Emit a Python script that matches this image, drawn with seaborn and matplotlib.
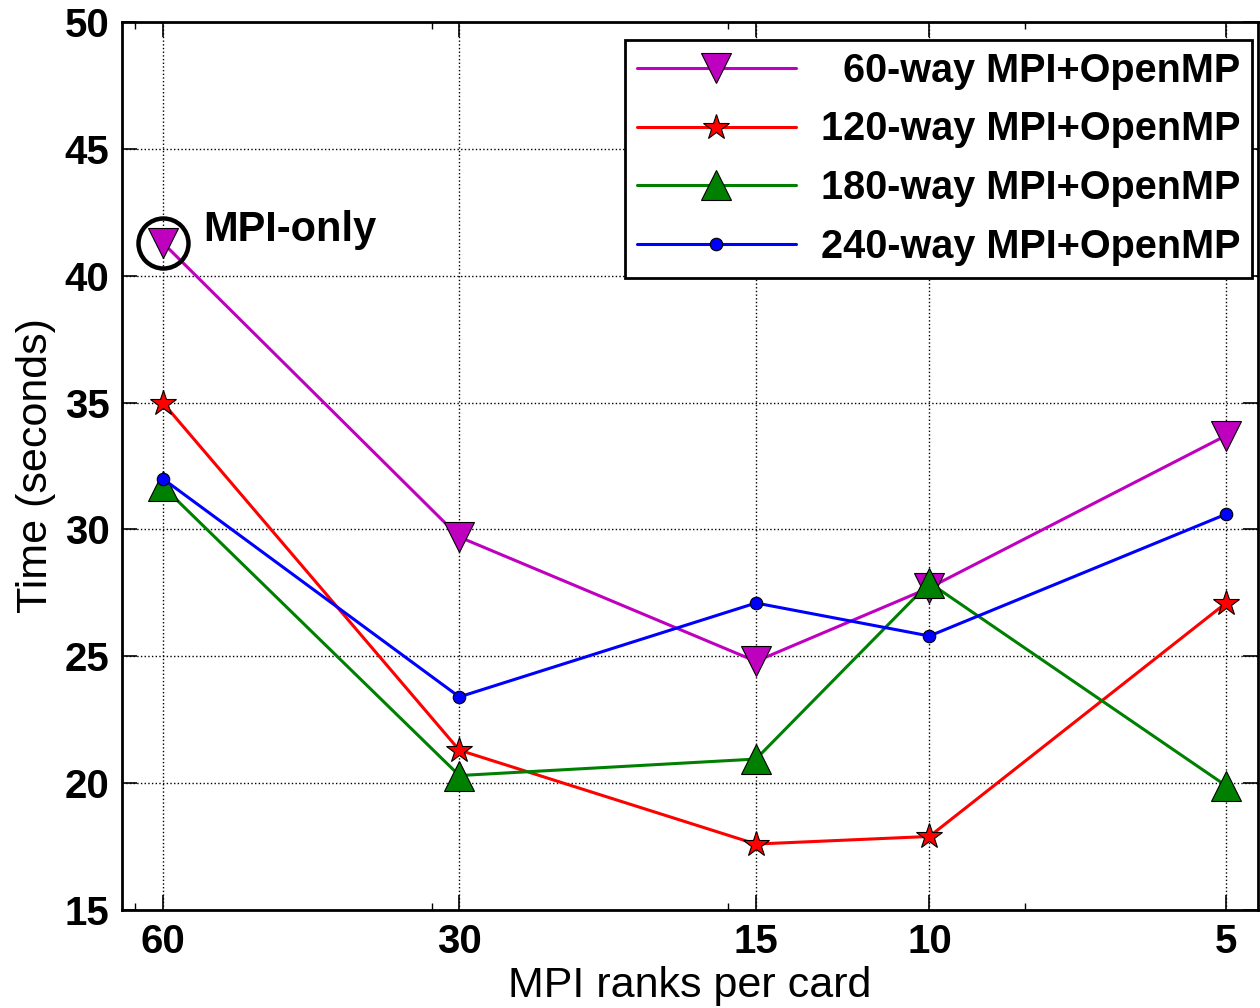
import numpy as np
import pandas as pd
import matplotlib
matplotlib.use("Agg")
import matplotlib.pyplot as plt
import seaborn as sns

# data
ranks = [60, 30, 15, 10, 5]
minor_ranks = [64, 32, 16, 8]
way60 = [41.3, 29.7, 24.8, 27.7, 33.7]
way120 = [35.0, 21.3, 17.6, 17.9, 27.1]
way180 = [31.7, 20.3, 20.95, 27.9, 19.9]
way240 = [32.0, 23.4, 27.1, 25.8, 30.6]
yticks = [15, 20, 25, 30, 35, 40, 45, 50]

labels = ["  60-way MPI+OpenMP", "120-way MPI+OpenMP",
          "180-way MPI+OpenMP", "240-way MPI+OpenMP"]
colors = ["#BF00BF", "#FF0000", "#008000", "#0000FF"]
markers = ["v", "*", "^", "o"]
msizes = [22, 19, 22, 9]

sns.set_style("ticks")
plt.rcParams["font.family"] = ["Liberation Sans", "DejaVu Sans"]
plt.rcParams["text.color"] = "black"
plt.rcParams["axes.labelcolor"] = "black"
plt.rcParams["xtick.color"] = "black"
plt.rcParams["ytick.color"] = "black"

fig = plt.figure(figsize=(12.6, 10.08), dpi=100)
ax = fig.add_axes([0.0968, 0.0972, 0.9016, 0.881])

for vals, lab, c, m, s in zip([way60, way120, way180, way240], labels, colors, markers, msizes):
    df = pd.DataFrame({"ranks": ranks, "time": vals})
    sns.lineplot(data=df, x="ranks", y="time", ax=ax, color=c, marker=m,
                 markersize=s, markeredgecolor="black", markeredgewidth=0.8,
                 linewidth=2.2, label=lab)

# circle round the MPI-only point
ax.plot(ranks[0], way60[0], marker="o", ms=36, mfc="none", mec="black", mew=3.2)
ax.text(54.6, 41.8, "MPI-only", fontsize=30, fontweight="bold", ha="left", va="center")

ax.set_xscale("log", base=2)
ax.set_xlim(66, 4.64)
ax.set_ylim(15, 50)
ax.set_xticks(ranks)
ax.set_xticklabels([str(r) for r in ranks])
ax.set_xticks(minor_ranks, minor=True)
ax.set_xticklabels([""] * len(minor_ranks), minor=True)
ax.set_yticks(yticks)

ax.grid(True, which="major", linestyle=":", color="black", linewidth=1.0)
ax.tick_params(which="major", direction="in", length=11, width=1.2,
               top=True, right=True, labelsize=29, pad=9)
ax.tick_params(which="minor", direction="in", length=5, width=1.0,
               top=True, right=True)
for t in ax.get_xticklabels() + ax.get_yticklabels():
    t.set_fontweight("bold")
for sp in ax.spines.values():
    sp.set_linewidth(2)
    sp.set_color("black")

ax.set_xlabel("MPI ranks per card", fontsize=31, labelpad=4)
ax.set_ylabel("Time (seconds)", fontsize=31, labelpad=6)

leg = ax.legend(loc="upper right", bbox_to_anchor=(0.9947, 0.9797), borderaxespad=0,
                prop={"size": 28.5, "weight": "bold"}, handlelength=4.0,
                handletextpad=0.63, labelspacing=0.52, borderpad=0.3,
                fancybox=False, framealpha=1, edgecolor="black", numpoints=1)
leg.get_frame().set_linewidth(2)

fig.savefig("out.png", dpi=100)
